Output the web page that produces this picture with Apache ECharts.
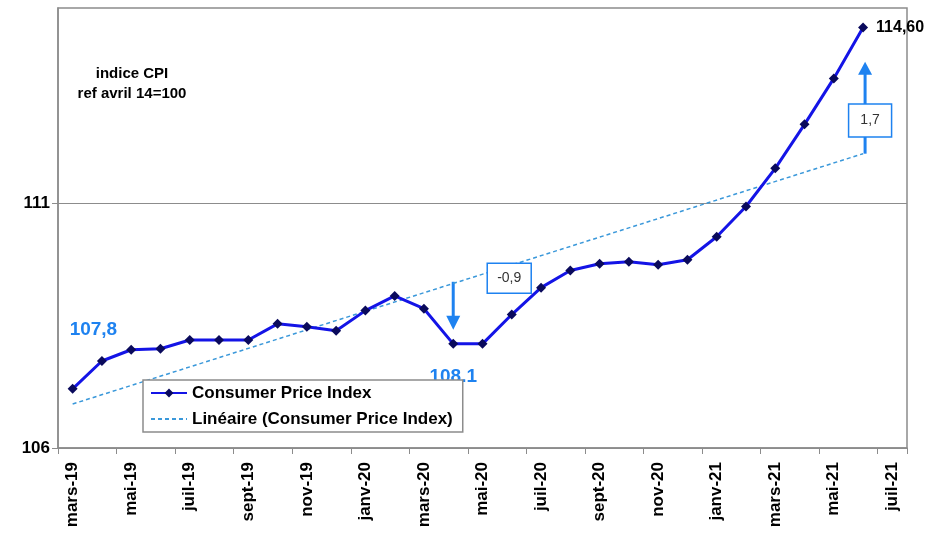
<!DOCTYPE html>
<html>
<head>
<meta charset="utf-8">
<script src="https://cdn.jsdelivr.net/npm/echarts@6/dist/echarts.min.js"></script>
<style>
html,body{margin:0;padding:0;background:#fff;}
#c{width:931px;height:538px;}
</style>
</head>
<body>
<div id="c"></div>
<script>
// ---- data ----
const categories = ['mars-19','avr-19','mai-19','juin-19','juil-19','août-19','sept-19','oct-19','nov-19','déc-19',
  'janv-20','févr-20','mars-20','avr-20','mai-20','juin-20','juil-20','août-20','sept-20','oct-20','nov-20','déc-20',
  'janv-21','févr-21','mars-21','avr-21','mai-21','juin-21','juil-21'];
const cpiValues = [107.21,107.78,108.01,108.03,108.21,108.21,108.21,108.54,108.48,108.40,
  108.81,109.11,108.85,108.13,108.13,108.73,109.28,109.63,109.77,109.81,109.75,109.85,
  110.32,110.94,111.72,112.62,113.56,114.60];
const trendStart = 106.90;   // linear trend at first month
const trendEnd = 112.02;     // linear trend at last month with data
const yTicks = [106, 111];
const seriesNames = ['Consumer Price Index', 'Linéaire (Consumer Price Index)'];
const lastLabel = '114,60';

const FONT = '"Liberation Sans", Arial, sans-serif';
const BLUE = '#1E82F0';

const trendData = categories.map(() => null);
trendData[0] = trendStart;
trendData[cpiValues.length - 1] = trendEnd;

const mainData = cpiValues.map((v, i) => i === cpiValues.length - 1
  ? { value: v, label: { show: true, position: 'right', distance: 8, formatter: lastLabel,
      fontFamily: FONT, fontWeight: 'bold', fontSize: 16, color: '#000' } }
  : v);

const chart = echarts.init(document.getElementById('c'), null, { renderer: 'canvas' });
chart.setOption({
  animation: false,
  backgroundColor: '#fff',
  grid: { left: 58, right: 24, top: 8, bottom: 90, show: true, borderColor: '#8c8c8c', borderWidth: 1.5, containLabel: false },
  xAxis: {
    type: 'category', data: categories, boundaryGap: true,
    axisLine: { lineStyle: { color: '#8c8c8c', width: 1.5 } },
    axisTick: { show: true, interval: 1, length: 6, lineStyle: { color: '#8c8c8c' } },
    axisLabel: { interval: 1, rotate: 90, margin: 14, color: '#000', fontFamily: FONT, fontWeight: 'bold', fontSize: 17 },
    splitLine: { show: false }
  },
  yAxis: {
    type: 'value', min: 106, max: 115, interval: 5,
    axisLine: { show: true, lineStyle: { color: '#8c8c8c', width: 1.5 } },
    axisTick: { show: true, length: 6, customValues: yTicks, lineStyle: { color: '#8c8c8c' } },
    axisLabel: { margin: 8, color: '#000', fontFamily: FONT, fontWeight: 'bold', fontSize: 17,
      customValues: yTicks,
      formatter: v => yTicks.indexOf(v) >= 0 ? String(v) : '' },
    splitLine: { show: true, lineStyle: { color: '#8c8c8c', width: 1.2 } }
  },
  legend: {
    orient: 'vertical', left: 143, top: 380, z: 10,
    backgroundColor: '#fff', borderColor: '#8c8c8c', borderWidth: 1.5,
    padding: [2, 10, 2, 7], itemGap: 4, itemWidth: 36, itemHeight: 11,
    textStyle: { fontSize: 17, fontWeight: 'bold', color: '#000', fontFamily: FONT, lineHeight: 22 },
    data: [
      { name: seriesNames[0] },
      { name: seriesNames[1], itemStyle: { opacity: 0 } }
    ]
  },
  series: [
    {
      name: seriesNames[1], type: 'line', data: trendData, connectNulls: true,
      symbol: 'none', z: 2,
      lineStyle: { color: '#3A98DA', width: 1.5, type: [4, 3] },
      itemStyle: { color: '#3A98DA' }
    },
    {
      name: seriesNames[0], type: 'line', data: mainData, z: 3,
      symbol: 'diamond', symbolSize: 10,
      lineStyle: { color: '#1414E6', width: 3 },
      itemStyle: { color: '#0A0A5C', borderWidth: 0 }
    }
  ]
});

const px = (i, v) => chart.convertToPixel({ xAxisIndex: 0, yAxisIndex: 0 }, [i, v]);

function arrowDown(x, yTop, yTip) {
  return [
    { type: 'line', shape: { x1: x, y1: yTop, x2: x, y2: yTip - 12 }, style: { stroke: BLUE, lineWidth: 3 } },
    { type: 'polygon', shape: { points: [[x - 7, yTip - 14], [x + 7, yTip - 14], [x, yTip]] }, style: { fill: BLUE } }
  ];
}
function box(cx, cy, w, h, txt) {
  return [
    { type: 'rect', shape: { x: cx - w / 2, y: cy - h / 2, width: w, height: h }, style: { fill: '#fff', stroke: BLUE, lineWidth: 1.5 }, z: 5 },
    { type: 'text', x: cx, y: cy, style: { text: txt, fill: '#333', font: '14px ' + FONT, align: 'center', verticalAlign: 'middle' }, z: 6 }
  ];
}

const iDip = 13, iLast = cpiValues.length - 1;
const dipX = px(iDip, 0)[0];
const lastX = px(iLast, 0)[0] + 2;
const upTop = px(iLast, 113.9)[1];
const upBase = px(iLast, trendEnd)[1];
const boxUpC = px(iLast, 112.70)[1];
const els = [].concat(
  arrowDown(dipX, px(iDip, 109.40)[1], px(iDip, 108.42)[1]),
  box(dipX + 56, px(iDip, 109.47)[1], 44, 30, '-0,9'),
  [
    { type: 'line', shape: { x1: lastX, y1: upBase, x2: lastX, y2: boxUpC + 16 }, style: { stroke: BLUE, lineWidth: 3 } },
    { type: 'line', shape: { x1: lastX, y1: boxUpC - 16, x2: lastX, y2: upTop + 12 }, style: { stroke: BLUE, lineWidth: 3 } },
    { type: 'polygon', shape: { points: [[lastX - 7, upTop + 13], [lastX + 7, upTop + 13], [lastX, upTop]] }, style: { fill: BLUE } }
  ],
  box(lastX + 5, boxUpC, 43, 33, '1,7'),
  [
    { type: 'text', x: 132, y: 74, style: { text: 'indice CPI', fill: '#000', font: 'bold 15px ' + FONT, align: 'center', verticalAlign: 'middle' } },
    { type: 'text', x: 132, y: 94, style: { text: 'ref avril 14=100', fill: '#000', font: 'bold 15px ' + FONT, align: 'center', verticalAlign: 'middle' } },
    { type: 'text', x: px(0, 0)[0] - 3, y: px(0, 108.42)[1], style: { text: '107,8', fill: BLUE, font: 'bold 19px ' + FONT, align: 'left', verticalAlign: 'middle' } },
    { type: 'text', x: dipX, y: 377, style: { text: '108.1', fill: BLUE, font: 'bold 19px ' + FONT, align: 'center', verticalAlign: 'middle' }, z: 0 }
  ]
);
chart.setOption({ graphic: { elements: els } });
</script>
</body>
</html>
